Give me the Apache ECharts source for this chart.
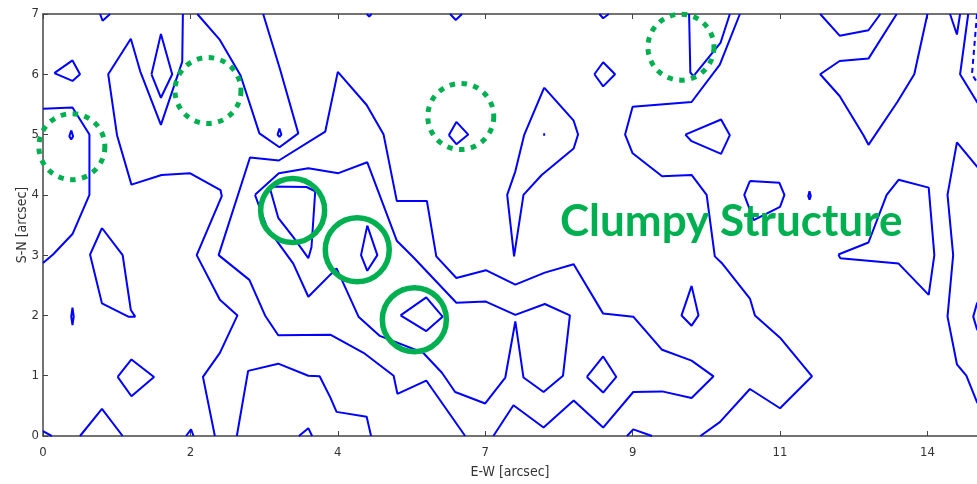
<!DOCTYPE html>
<html>
<head>
<meta charset="utf-8">
<script src="https://cdn.jsdelivr.net/npm/echarts@6/dist/echarts.min.js"></script>
<style>
  html, body { margin: 0; padding: 0; background: #fff; }
  #chart { width: 977px; height: 484px; }
</style>
</head>
<body>
<div id="chart"></div>
<script>
// ---- axis tick labels (x ticks every 2.35 arcsec, labels as printed) ----
const xTickLabels = ['0', '2', '4', '7', '9', '11', '14'];
const yTickLabels = ['0', '1', '2', '3', '4', '5', '6', '7'];

// ---- contour lines, [E-W arcsec, S-N arcsec] ----
const cTopV1 = [[0.91, 7.0], [0.95, 6.89], [1.07, 7.0]];
const cLeftQuad = [[0.18, 6.02], [0.47, 6.23], [0.59, 6.0], [0.47, 5.89], [0.18, 6.02]];
const cLeftEdge = [[0.0, 5.43], [0.47, 5.45], [0.74, 5.0], [0.74, 4.0], [0.47, 3.35], [0.16, 3.01], [0.0, 2.87]];
const cDotLeft5 = [[0.45, 5.07], [0.48, 4.97], [0.45, 4.92], [0.42, 4.97], [0.45, 5.07]];
const cDotLeft2 = [[0.47, 2.13], [0.49, 1.98], [0.47, 1.84], [0.45, 1.98], [0.47, 2.13]];
const cLeftPoly = [[0.94, 3.45], [1.27, 3.0], [1.40, 2.09], [1.47, 1.98], [1.36, 1.98], [0.94, 2.20], [0.75, 3.01], [0.94, 3.45]];
const cLeftDiamond = [[1.19, 0.98], [1.41, 1.27], [1.77, 0.98], [1.41, 0.66], [1.19, 0.98]];
const cBottomCorner = [[0.0, 0.08], [0.14, 0.0]];
const cBottomPeak = [[0.59, 0.0], [0.94, 0.45], [1.27, 0.0]];
const cBottomBump1 = [[2.28, 0.0], [2.36, 0.11], [2.40, 0.0]];
const cBottomBump2 = [[4.08, 0.0], [4.23, 0.13], [4.29, 0.0]];
const cBottomBump3 = [[9.31, 0.0], [9.41, 0.11], [9.71, 0.0]];
const cRidgeOuter = [[2.23, 7.0], [2.22, 6.21], [1.88, 5.16], [1.55, 6.05], [1.40, 6.59], [1.04, 6.0], [1.18, 4.99], [1.41, 4.17], [1.89, 4.33], [2.34, 4.36], [2.83, 4.08], [2.85, 3.98], [2.45, 3.0], [2.82, 2.26], [3.10, 2.0], [2.82, 1.38], [2.55, 0.98], [2.74, 0.0]];
const cDiamondTL = [[1.73, 6.0], [1.88, 6.67], [2.06, 6.0], [1.88, 5.61], [1.73, 6.0]];
const cTongueTop = [[2.46, 7.0], [2.82, 6.57], [3.15, 5.98], [3.45, 5.02], [3.77, 4.79], [4.07, 5.02], [3.78, 6.08], [3.51, 7.0]];
const cDotTongue = [[3.77, 5.1], [3.80, 5.0], [3.77, 4.96], [3.74, 5.0], [3.77, 5.1]];
const cMain = [[7.18, 0.0], [7.50, 0.51], [7.98, 0.14], [8.46, 0.59], [8.93, 0.14], [9.41, 0.73], [9.87, 0.74], [10.34, 0.63], [10.69, 0.99], [10.34, 1.25], [9.87, 1.43], [9.41, 1.98], [8.93, 2.03], [8.46, 2.85], [8.0, 2.71], [7.53, 2.51], [7.06, 2.75], [6.59, 2.62], [6.27, 2.98], [6.12, 3.90], [5.64, 3.90], [5.43, 5.0], [5.16, 5.49], [4.70, 6.04], [4.50, 5.05], [3.76, 4.57], [3.30, 4.62], [2.80, 3.0], [3.29, 2.59], [3.54, 2.0], [3.75, 1.67], [4.58, 1.68], [5.11, 1.38], [5.59, 1.0], [5.65, 0.70], [6.11, 0.92], [6.73, 0.0]];
const cInner = [[3.38, 4.0], [3.76, 4.36], [4.23, 4.44], [4.71, 4.36], [5.17, 4.54], [5.64, 3.24], [5.90, 2.97], [6.59, 2.21], [7.06, 2.23], [7.53, 2.01], [8.0, 2.19], [8.40, 2.0], [8.29, 1.0], [7.98, 0.73], [7.66, 0.97], [7.53, 1.90], [7.37, 0.97], [7.05, 0.54], [6.57, 0.73], [6.36, 1.05], [6.06, 1.38], [5.37, 1.66], [5.03, 1.98], [4.68, 2.78], [4.23, 2.31], [3.99, 2.86], [3.57, 3.46], [3.38, 4.0]];
const cClump1 = [[3.61, 4.14], [4.20, 4.13], [4.34, 4.06], [4.28, 3.13], [4.23, 2.95], [3.99, 3.30], [3.75, 3.62], [3.61, 4.14]];
const cClump2 = [[5.17, 3.49], [5.33, 3.0], [5.17, 2.74], [5.07, 3.0], [5.17, 3.49]];
const cClump3 = [[5.70, 2.0], [6.11, 2.30], [6.37, 1.98], [6.11, 1.74], [5.70, 2.0]];
const cBottomLobe = [[3.09, 0.0], [3.27, 1.08], [3.75, 1.20], [4.23, 1.0], [4.41, 0.99], [4.58, 0.64], [4.68, 0.40], [5.16, 0.32], [5.23, 0.0]];
const cTopV2 = [[5.16, 7.0], [5.20, 6.96], [5.24, 7.0]];
const cTopV3 = [[6.49, 7.0], [6.58, 6.90], [6.68, 7.0]];
const cTopV4 = [[8.87, 7.0], [8.93, 6.93], [9.02, 7.0]];
const cTopV5 = [[14.46, 7.0], [14.57, 6.66], [14.62, 7.0]];
const cDiamondMid = [[6.47, 4.99], [6.59, 5.21], [6.78, 5.0], [6.59, 4.84], [6.47, 4.99]];
const cSpike = [[7.99, 5.78], [7.67, 4.99], [7.53, 4.39], [7.40, 4.0], [7.51, 2.98], [7.66, 4.0], [7.95, 4.33], [8.46, 4.77], [8.53, 5.0], [8.46, 5.23], [7.99, 5.78]];
const cDotSpike = [[7.99, 5.02], [8.0, 5.0], [7.99, 4.98], [7.98, 5.0], [7.99, 5.02]];
const cDiamondUR = [[8.79, 6.0], [8.93, 6.20], [9.12, 6.0], [8.93, 5.80], [8.79, 6.0]];
const cDiamondLow = [[8.67, 0.98], [8.93, 1.32], [9.14, 0.98], [8.93, 0.72], [8.67, 0.98]];
const cRightBig = [[11.11, 7.0], [10.79, 6.16], [10.34, 5.54], [9.40, 5.46], [9.28, 5.0], [9.40, 4.69], [9.87, 4.31], [10.34, 4.33], [10.58, 4.0], [10.71, 2.98], [10.82, 2.87], [11.27, 2.28], [11.35, 2.0], [11.75, 1.63], [12.26, 0.99], [11.75, 0.46], [11.27, 0.78], [10.79, 0.23], [10.48, 0.0]];
const cNarrowTop = [[10.30, 7.0], [10.32, 6.03], [10.37, 5.97], [10.80, 6.52], [10.95, 7.0]];
const cPentagon = [[10.24, 5.0], [10.81, 5.25], [10.95, 4.99], [10.81, 4.68], [10.34, 4.89], [10.24, 5.0]];
const cSmallRight = [[10.34, 2.49], [10.18, 2.0], [10.34, 1.83], [10.45, 2.0], [10.34, 2.49]];
const cHexRight = [[11.27, 4.23], [11.74, 4.20], [11.82, 4.0], [11.75, 3.80], [11.33, 3.58], [11.18, 4.0], [11.27, 4.23]];
const cDotRight = [[12.22, 4.06], [12.24, 3.98], [12.22, 3.92], [12.20, 3.98], [12.22, 4.06]];
const cTopRight1 = [[12.39, 7.0], [12.70, 6.64], [13.16, 6.73], [13.35, 7.0]];
const cTopRight2 = [[13.61, 7.0], [13.16, 6.26], [12.70, 6.22], [12.39, 6.0], [12.70, 5.64], [13.08, 4.99], [13.16, 4.83], [13.62, 5.54], [13.89, 6.0], [14.10, 7.0]];
const cLobeRight = [[12.68, 3.01], [13.16, 3.21], [13.45, 4.0], [13.64, 4.25], [14.12, 4.12], [14.21, 3.0], [14.12, 2.34], [13.64, 2.86], [12.71, 2.95], [12.68, 3.01]];
const cEdgeTop = [[14.75, 7.0], [14.62, 6.0], [14.89, 5.54], [15.10, 5.25]];
const cEdgeDashed = [[14.89, 7.0], [14.81, 6.0], [14.90, 5.85], [15.10, 5.60]];
const cEdgeLong = [[15.05, 4.27], [14.89, 4.47], [14.57, 4.87], [14.42, 4.0], [14.51, 3.0], [14.42, 1.98], [14.57, 1.19], [14.72, 1.0], [14.89, 0.56], [15.05, 0.40]];
const cEdgeSmall = [[15.0, 2.35], [14.89, 2.2], [14.83, 1.98], [14.89, 1.77], [15.0, 1.6]];

const solidContours = [cTopV1, cLeftQuad, cLeftEdge, cDotLeft5, cDotLeft2, cLeftPoly, cLeftDiamond,
  cBottomCorner, cBottomPeak, cBottomBump1, cBottomBump2, cBottomBump3, cRidgeOuter, cDiamondTL,
  cTongueTop, cDotTongue, cMain, cInner, cClump1, cClump2, cClump3, cBottomLobe, cTopV2, cTopV3,
  cTopV4, cTopV5, cDiamondMid, cSpike, cDotSpike, cDiamondUR, cDiamondLow, cRightBig, cNarrowTop,
  cPentagon, cSmallRight, cHexRight, cDotRight, cTopRight1, cTopRight2, cLobeRight, cEdgeTop,
  cEdgeLong, cEdgeSmall];
const dashedContours = [cEdgeDashed];

// ---- annotation circle centres ----
const clumpCircles = [[3.98, 3.74], [5.01, 3.09], [5.92, 1.93]];
const candidateCircles = [[0.46, 4.80], [2.63, 5.73], [6.66, 5.30], [10.17, 6.45]];

const annotationText = 'Clumpy Structure';

// ---- build chart ----
const X_STEP = 2.35;
const X_MAX = 14.89;
const BLUE = '#0000ff';
const GREEN = '#00b050';
const tickFont = '"Liberation Sans Narrow", "DejaVu Sans Condensed", "DejaVu Sans", sans-serif';

const series = [];
solidContours.forEach(function (c) {
  series.push({ type: 'line', data: c, symbol: 'none', silent: true, z: 2,
    lineStyle: { color: BLUE, width: 2 } });
});
dashedContours.forEach(function (c) {
  series.push({ type: 'line', data: c, symbol: 'none', silent: true, z: 2,
    lineStyle: { color: BLUE, width: 2, type: [5, 4] } });
});
series.push({ type: 'scatter', data: clumpCircles, symbol: 'circle', symbolSize: 64, silent: true, z: 5,
  itemStyle: { color: 'rgba(0,0,0,0)', borderColor: GREEN, borderWidth: 5.5, opacity: 1 } });
series.push({ type: 'scatter', data: candidateCircles, symbol: 'circle', symbolSize: 66, silent: true, z: 5,
  itemStyle: { color: 'rgba(0,0,0,0)', borderColor: GREEN, borderWidth: 5, borderType: [5.5, 6.5], opacity: 1 } });

const chart = echarts.init(document.getElementById('chart'), null, { renderer: 'canvas' });
const axisLineStyle = { color: '#444', width: 1.5 };
chart.setOption({
  animation: false,
  backgroundColor: '#ffffff',
  grid: { left: 43, top: 14, right: 0, height: 427, show: false },
  xAxis: [{
    type: 'value', min: 0, max: X_MAX, interval: X_STEP, position: 'bottom',
    name: 'E-W [arcsec]', nameLocation: 'middle', nameGap: 29,
    nameTextStyle: { fontSize: 14, color: '#333', fontFamily: tickFont },
    axisLine: { show: true, lineStyle: axisLineStyle },
    axisTick: { show: true, inside: true, length: 5, lineStyle: { color: '#444', width: 1 } },
    axisLabel: { show: true, margin: 10, fontSize: 13, color: '#333', fontFamily: tickFont, showMaxLabel: false,
      formatter: function (v) { const i = Math.round(v / X_STEP); return xTickLabels[i] !== undefined ? xTickLabels[i] : ''; } },
    splitLine: { show: false }
  }, {
    type: 'value', min: 0, max: X_MAX, interval: X_STEP, position: 'top',
    axisLine: { show: true, lineStyle: axisLineStyle },
    axisTick: { show: true, inside: true, length: 5, lineStyle: { color: '#444', width: 1 } },
    axisLabel: { show: false }, splitLine: { show: false }
  }],
  yAxis: [{
    type: 'value', min: 0, max: 7, interval: 1, position: 'left',
    name: 'S-N [arcsec]', nameLocation: 'middle', nameGap: 14, nameRotate: 90, nameMoveOverlap: false,
    nameTextStyle: { fontSize: 14, color: '#333', fontFamily: tickFont },
    axisLine: { show: true, lineStyle: axisLineStyle },
    axisTick: { show: true, inside: true, length: 5, lineStyle: { color: '#444', width: 1 } },
    axisLabel: { show: true, margin: 4, fontSize: 13, color: '#333', fontFamily: tickFont,
      formatter: function (v) { return yTickLabels[Math.round(v)]; } },
    splitLine: { show: false }
  }],
  series: series,
  graphic: [{
    type: 'text', z: 10, silent: true,
    style: { x: 560, y: 222, text: annotationText, fill: GREEN, verticalAlign: 'middle',
      font: 'bold 44px Lato, "Open Sans", sans-serif' }
  }]
});
</script>
</body>
</html>
